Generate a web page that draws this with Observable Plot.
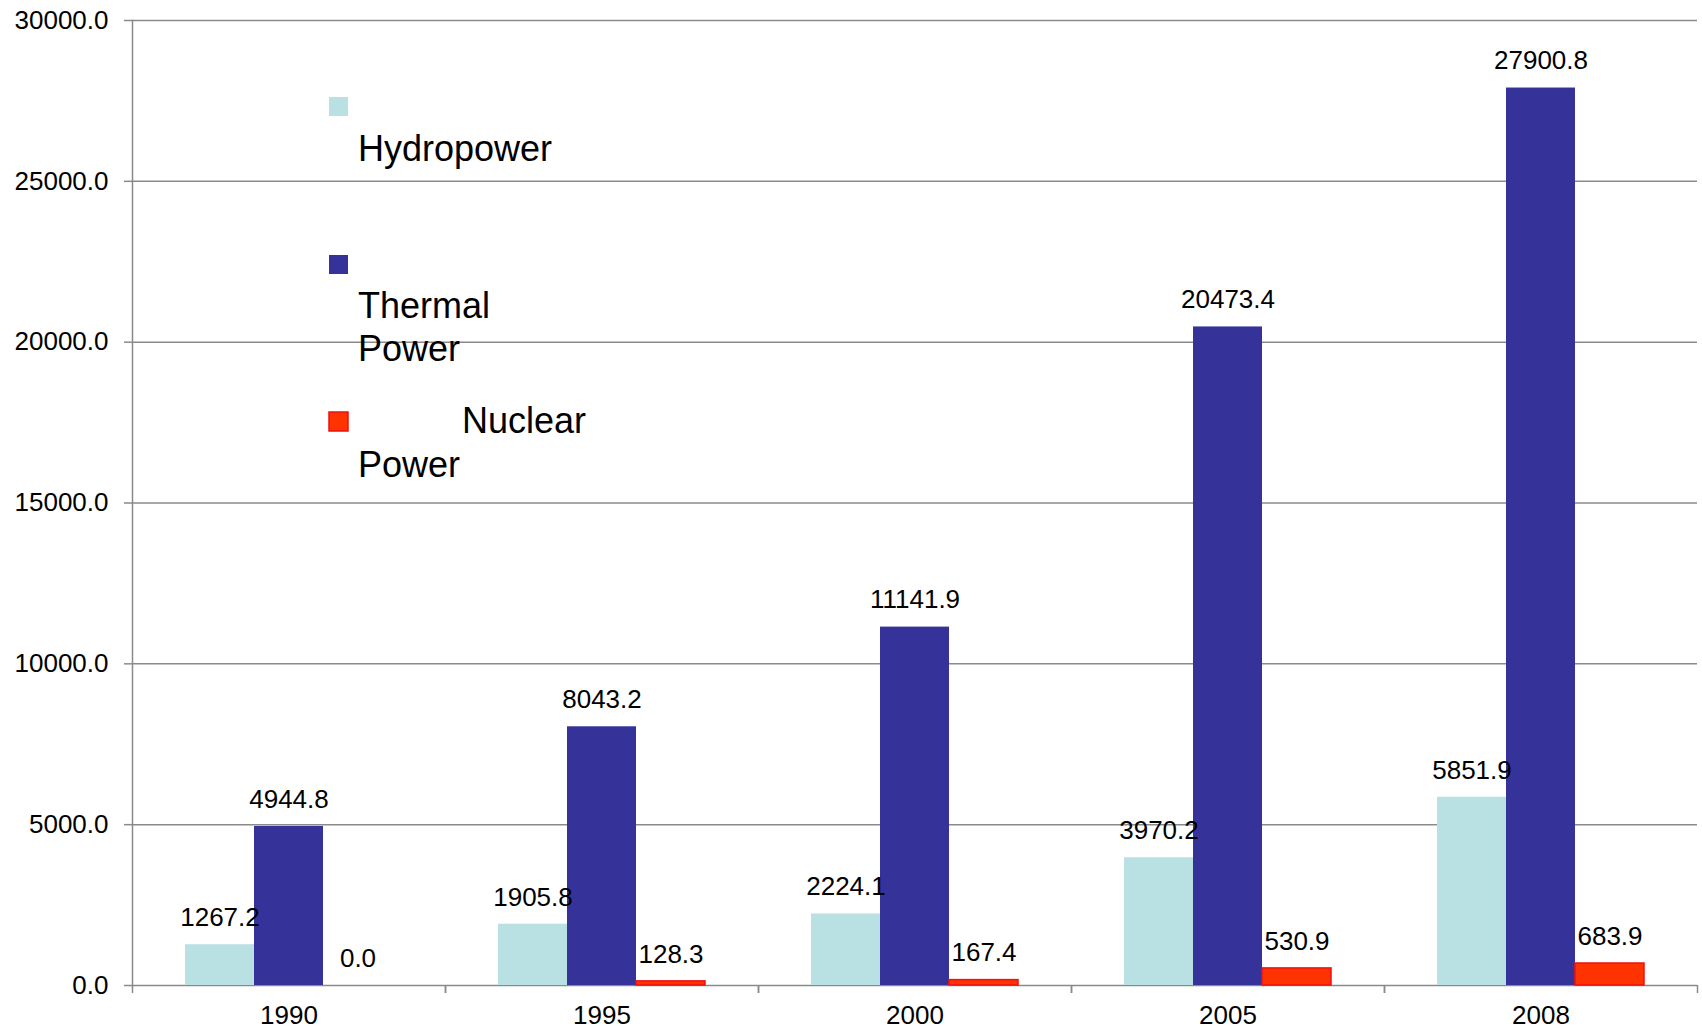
<!DOCTYPE html>
<html>
<head>
<meta charset="utf-8">
<script src="https://cdn.jsdelivr.net/npm/d3@7"></script>
<script src="https://cdn.jsdelivr.net/npm/@observablehq/plot@0.6"></script>
<style>
  html, body { margin: 0; padding: 0; background: #fff; }
  #wrap { position: relative; width: 1702px; height: 1030px; }
  #legend { position: absolute; left: 0; top: 0; pointer-events: none; }
</style>
</head>
<body>
<div id="wrap"></div>
<script>
const years = ["1990", "1995", "2000", "2005", "2008"];
const series = ["Hydropower", "Thermal Power", "Nuclear Power"];
const hydropower = [1267.2, 1905.8, 2224.1, 3970.2, 5851.9];
const thermalPower = [4944.8, 8043.2, 11141.9, 20473.4, 27900.8];
const nuclearPower = [0.0, 128.3, 167.4, 530.9, 683.9];
const yTicks = [0, 5000, 10000, 15000, 20000, 25000, 30000];
const colors = ["#B9E0E3", "#353399", "#FF3300"];

const values = [hydropower, thermalPower, nuclearPower];
const data = years.flatMap((year, i) =>
  series.map((s, j) => ({ year, series: s, value: values[j][i] }))
);

const W = 1702, H = 1030;
const mL = 132, mR = 5, mT = 20, mB = 45;
const bw = (W - mL - mR) / years.length;
const gridColor = "#8a8a8a";
const font = "'Liberation Sans', Arial, sans-serif";

const plot = Plot.plot({
  width: W,
  height: H,
  marginLeft: mL,
  marginRight: mR,
  marginTop: mT,
  marginBottom: mB,
  style: { fontFamily: font, fontSize: "26px", color: "#000", background: "#fff" },
  fx: { domain: years, padding: 0, label: null, axis: null },
  x: { domain: series, paddingInner: 0, paddingOuter: 0.75, axis: null },
  y: { domain: [0, 30000], label: null, axis: null },
  color: { domain: series, range: colors },
  marks: [
    Plot.gridY(yTicks, { stroke: gridColor, strokeOpacity: 1, strokeWidth: 1.5 }),
    Plot.axisY(yTicks, {
      tickSize: 8, tickPadding: 16, tickFormat: d => d.toFixed(1),
      stroke: gridColor, strokeWidth: 1.5, fontSize: 26, label: null
    }),
    Plot.frame({ anchor: "left", facetAnchor: "left", stroke: gridColor, strokeWidth: 1.5 }),
    Plot.barY(data, {
      fx: "year", x: "series", y: "value", fill: "series",
      stroke: d => (d.series === series[2] && d.value > 0) ? "#F01010" : "none",
      strokeWidth: 1.5
    }),
    Plot.text(data, {
      fx: "year", x: "series", y: "value",
      text: d => d.value.toFixed(1), dy: -27, lineAnchor: "middle",
      fontSize: 26, fill: "#000"
    }),
    Plot.axisFx({ anchor: "bottom", tickSize: 0, tickPadding: 20, fontSize: 26, label: null }),
    Plot.axisFx({ anchor: "bottom", tickSize: 8, tickFormat: () => "", dx: -bw / 2, stroke: gridColor, strokeWidth: 1.5, label: null }),
    Plot.axisFx([years[years.length - 1]], { anchor: "bottom", tickSize: 8, tickFormat: () => "", dx: bw / 2, stroke: gridColor, strokeWidth: 1.5, label: null })
  ]
});

const wrap = document.getElementById("wrap");
wrap.appendChild(plot);

// Legend overlay (inside plot area, top-left)
const color = plot.scale("color");
const legend = d3.select(wrap).append("svg")
  .attr("id", "legend")
  .attr("width", W).attr("height", H)
  .style("font-family", font).style("font-size", "36px");

const legendItems = [
  { key: series[0], sw: [329, 97, 19, 19], lines: [["Hydropower", 358, 161]] },
  { key: series[1], sw: [329, 255, 19, 19], lines: [["Thermal", 358, 318], ["Power", 358, 361]] },
  { key: series[2], sw: [329, 412, 19, 19], lines: [["Nuclear", 462, 433], ["Power", 358, 477]], stroke: "#F01010" }
];
for (const it of legendItems) {
  const c = color.range[color.domain.indexOf(it.key)];
  legend.append("rect")
    .attr("x", it.sw[0]).attr("y", it.sw[1]).attr("width", it.sw[2]).attr("height", it.sw[3])
    .attr("fill", c)
    .attr("stroke", it.stroke || "none").attr("stroke-width", 1.5);
  for (const [t, x, y] of it.lines) {
    legend.append("text").attr("x", x).attr("y", y).attr("fill", "#000").text(t);
  }
}
</script>
</body>
</html>
